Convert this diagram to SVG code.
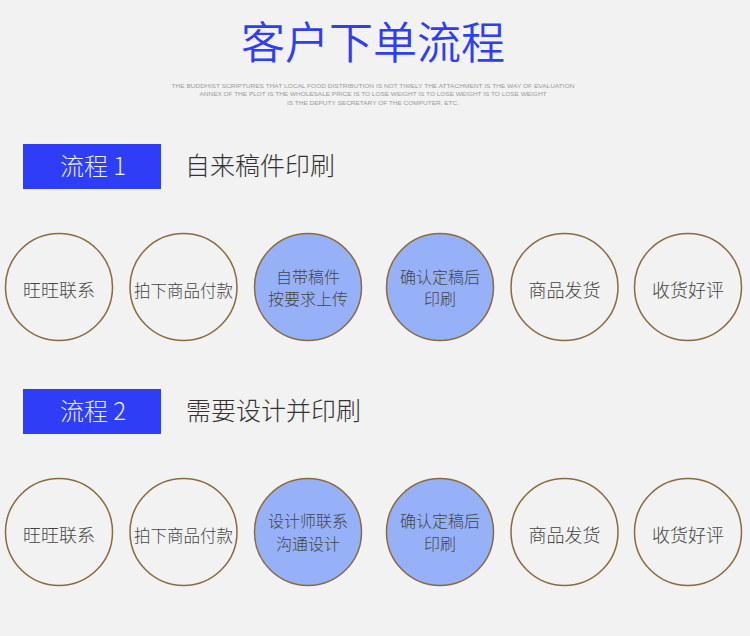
<svg xmlns="http://www.w3.org/2000/svg" width="750" height="636" viewBox="0 0 750 636">
<style>
.bg{fill:#f2f2f2}
.title{font-family:"Noto Sans CJK SC","Noto Sans",sans-serif;font-size:44px;fill:#2f3ef5;text-anchor:middle;font-weight:350}
.sub{font-family:"Liberation Sans",Arial,sans-serif;font-size:5px;fill:#9a9a9a;text-anchor:middle}
.box{fill:#2e3ef6}
.boxt{font-family:"Noto Sans CJK SC","Noto Sans",sans-serif;font-size:24px;fill:#eceefc;text-anchor:middle;font-weight:300}
.head{font-family:"Noto Sans CJK SC","Noto Sans",sans-serif;font-size:25px;fill:#333;font-weight:300}
.c{fill:none;stroke:#8b6a3e;stroke-width:1.5}
.cf{fill:#97b1f9;stroke:#8b6a3e;stroke-width:1.5}
.ct{font-family:"Noto Sans CJK SC","Noto Sans",sans-serif;font-size:16px;fill:#444;text-anchor:middle;font-weight:300}
.big{font-size:18px}
.mid{font-size:16.5px}
</style>
<rect class="bg" x="0" y="0" width="750" height="636"/>
<g id="header">
<text class="title" x="373" y="59">客户下单流程</text>
<text class="sub" x="373" y="87.5" textLength="403" lengthAdjust="spacingAndGlyphs">THE BUDDHIST SCRIPTURES THAT LOCAL FOOD DISTRIBUTION IS NOT TIMELY THE ATTACHMENT IS THE WAY OF EVALUATION</text>
<text class="sub" x="373" y="96" textLength="347" lengthAdjust="spacingAndGlyphs">ANNEX OF THE PLOT IS THE WHOLESALE PRICE IS TO LOSE WEIGHT IS TO LOSE WEIGHT IS TO LOSE WEIGHT</text>
<text class="sub" x="373" y="105" textLength="172" lengthAdjust="spacingAndGlyphs">IS THE DEPUTY SECRETARY OF THE COMPUTER, ETC.</text>
</g>
<g id="flow1-label">
<rect class="box" x="23" y="144" width="138" height="45"/>
<text class="boxt" x="93" y="175">流程 1</text>
<text class="head" x="185" y="174.5">自来稿件印刷</text>
</g>
<g id="flow2-label">
<rect class="box" x="23" y="389" width="138" height="45"/>
<text class="boxt" x="93" y="420">流程 2</text>
<text class="head" x="186" y="419.5">需要设计并印刷</text>
</g>
<g id="connectors"></g>
<g id="r1n1"><circle class="c" cx="59" cy="287" r="53.5"/><text class="ct big" x="59" y="297">旺旺联系</text></g>
<g id="r1n2"><circle class="c" cx="183.5" cy="287" r="53.5"/><text class="ct mid" x="183.5" y="296.5">拍下商品付款</text></g>
<g id="r1n3"><circle class="cf" cx="308" cy="287" r="53.5"/><text class="ct" x="308" y="282.5">自带稿件</text><text class="ct" x="308" y="304.5">按要求上传</text></g>
<g id="r1n4"><circle class="cf" cx="440" cy="287" r="53.5"/><text class="ct" x="440" y="282.5">确认定稿后</text><text class="ct" x="440" y="304.5">印刷</text></g>
<g id="r1n5"><circle class="c" cx="564.5" cy="287" r="53.5"/><text class="ct big" x="564.5" y="297">商品发货</text></g>
<g id="r1n6"><circle class="c" cx="688" cy="287" r="53.5"/><text class="ct big" x="688" y="297">收货好评</text></g>
<g id="r2n1"><circle class="c" cx="59" cy="532" r="53.5"/><text class="ct big" x="59" y="542">旺旺联系</text></g>
<g id="r2n2"><circle class="c" cx="183.5" cy="532" r="53.5"/><text class="ct mid" x="183.5" y="541.5">拍下商品付款</text></g>
<g id="r2n3"><circle class="cf" cx="308" cy="532" r="53.5"/><text class="ct" x="308" y="526.5">设计师联系</text><text class="ct" x="308" y="549.5">沟通设计</text></g>
<g id="r2n4"><circle class="cf" cx="440" cy="532" r="53.5"/><text class="ct" x="440" y="526.5">确认定稿后</text><text class="ct" x="440" y="549.5">印刷</text></g>
<g id="r2n5"><circle class="c" cx="564.5" cy="532" r="53.5"/><text class="ct big" x="564.5" y="542">商品发货</text></g>
<g id="r2n6"><circle class="c" cx="688" cy="532" r="53.5"/><text class="ct big" x="688" y="542">收货好评</text></g>
</svg>
